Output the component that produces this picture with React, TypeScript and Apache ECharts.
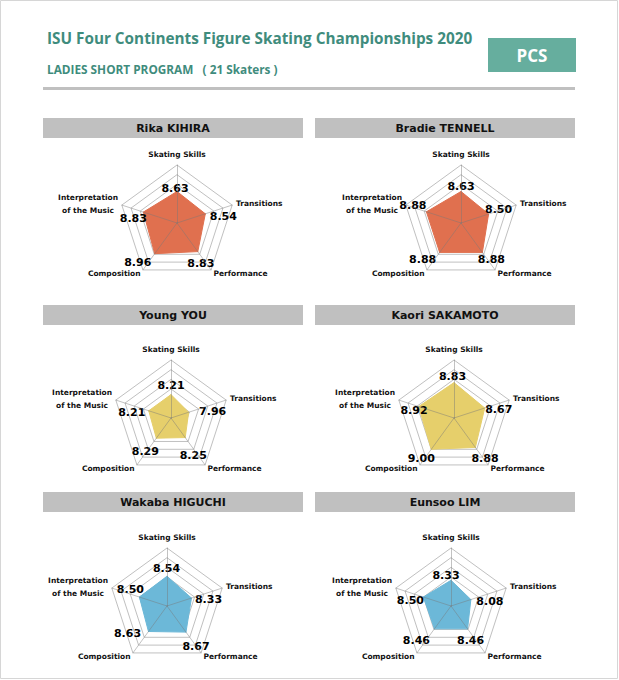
import { useEffect, useRef } from 'react';
import * as echarts from 'echarts';

// ---------- data ----------
const TITLE = 'ISU Four Continents Figure Skating Championships 2020';
const SUBTITLE = 'LADIES SHORT PROGRAM   ( 21 Skaters )';
const BADGE = 'PCS';
const COMPONENTS = ['Skating Skills', 'Transitions', 'Performance', 'Composition', 'Interpretation\nof the Music'];
const SKATERS = ['Rika KIHIRA', 'Bradie TENNELL', 'Young YOU', 'Kaori SAKAMOTO', 'Wakaba HIGUCHI', 'Eunsoo LIM'];
const RIKA_KIHIRA = [8.63, 8.54, 8.83, 8.96, 8.83];
const BRADIE_TENNELL = [8.63, 8.5, 8.88, 8.88, 8.88];
const YOUNG_YOU = [8.21, 7.96, 8.25, 8.29, 8.21];
const KAORI_SAKAMOTO = [8.83, 8.67, 8.88, 9.0, 8.92];
const WAKABA_HIGUCHI = [8.54, 8.33, 8.67, 8.63, 8.5];
const EUNSOO_LIM = [8.33, 8.08, 8.46, 8.46, 8.5];
const SCORES = [RIKA_KIHIRA, BRADIE_TENNELL, YOUNG_YOU, KAORI_SAKAMOTO, WAKABA_HIGUCHI, EUNSOO_LIM];
const AXIS_MIN = 7;
const AXIS_MAX = 10;
const AXIS_SPLITS = 6;

// ---------- layout / style ----------
const COLORS = ['#e0704f', '#e0704f', '#e6cf6b', '#e6cf6b', '#6cb8d8', '#6cb8d8'];
const PANELS = [
  { cx: 177, cy: 223, bx: 43, by: 118 },
  { cx: 461, cy: 223, bx: 315, by: 118 },
  { cx: 171, cy: 418, bx: 43, by: 305 },
  { cx: 454, cy: 418, bx: 315, by: 305 },
  { cx: 167, cy: 606, bx: 43, by: 492 },
  { cx: 451, cy: 606, bx: 315, by: 492 },
];
const RADIUS = 58;
// label offsets from each vertex (SS, TR, PE, CO, IN)
const LABEL_OFFSETS = [
  [[-2, -2.5], [18, 3], [3, 11.5], [-17, 9], [-10, 6]],
  [[0, -4.5], [10, -4.5], [9, 7], [-17, 7], [-13.5, -6]],
  [[0, -9], [24, -1], [8, 18], [-11, 13], [-17, 2]],
  [[-1.5, -6.6], [14, 1], [9.6, 10.6], [-10, 9.5], [-4.7, 4]],
  [[-0.5, -8], [17, 1], [10, 14.4], [-21, 2.5], [-9, -8]],
  [[-5, -5], [19, 2], [3, 12], [-18, 12], [-13, 3.5]],
];
const VERTEX_ANGLES = [90, 18, -54, -126, 162];
// ECharts lays indicators counter-clockwise from the top
const ORDER = [0, 4, 3, 2, 1];
const TEAL = '#3f8c7d';
const FONT = 'DejaVu Sans';

function buildOption() {
  const indicator = ORDER.map((k) => ({ name: COMPONENTS[k], min: AXIS_MIN, max: AXIS_MAX }));
  const radar: any[] = [];
  const series: any[] = [];
  PANELS.forEach((p, i) => {
    radar.push({
      center: [p.cx, p.cy],
      radius: RADIUS,
      startAngle: 90,
      splitNumber: AXIS_SPLITS,
      shape: 'polygon',
      indicator,
      z: 1,
      nameGap: 4,
      axisName: {
        color: '#111',
        fontFamily: FONT,
        fontWeight: 'bold',
        fontSize: 7.5,
        lineHeight: 13,
        formatter: (name: string) => name.split('\n').map((s) => `{a|${s}}`).join('\n'),
        rich: {
          a: { align: 'center', fontFamily: FONT, fontWeight: 'bold', fontSize: 7.5, lineHeight: 13, color: '#111' },
        },
      },
      axisLine: { show: false },
      splitLine: { show: true, lineStyle: { color: '#c0c0c0', width: 1 } },
      splitArea: { show: false },
      axisTick: { show: false },
      axisLabel: { show: false },
    });
    radar.push({
      center: [p.cx, p.cy],
      radius: RADIUS,
      startAngle: 90,
      splitNumber: AXIS_SPLITS,
      shape: 'polygon',
      indicator,
      z: 3,
      axisName: { show: false },
      axisLine: { show: true, lineStyle: { color: 'rgba(120,120,120,0.45)', width: 1 } },
      splitLine: { show: false },
      splitArea: { show: false },
      axisTick: { show: false },
      axisLabel: { show: false },
    });
    series.push({
      type: 'radar',
      radarIndex: i * 2,
      z: 2,
      symbol: 'circle',
      symbolSize: 1,
      itemStyle: { color: COLORS[i] },
      lineStyle: { color: COLORS[i], width: 1 },
      areaStyle: { color: COLORS[i], opacity: 1 },
      label: {
        show: true,
        position: 'inside',
        color: '#000',
        fontFamily: FONT,
        fontWeight: 'bold',
        fontSize: 11,
        formatter: (prm: any) => Number(prm.value).toFixed(2),
      },
      labelLayout: (prm: any) => {
        const r = prm.rect;
        const x = r.x + r.width / 2;
        const y = r.y + r.height / 2;
        const ang = (Math.atan2(p.cy - y, x - p.cx) * 180) / Math.PI;
        let best = 0;
        let bd = 1e9;
        VERTEX_ANGLES.forEach((a, k) => {
          let d = Math.abs(a - ang) % 360;
          if (d > 180) d = 360 - d;
          if (d < bd) { bd = d; best = k; }
        });
        const [dx, dy] = LABEL_OFFSETS[i][best];
        return { dx, dy };
      },
      data: [{ name: SKATERS[i], value: ORDER.map((k) => SCORES[i][k]) }],
    });
  });

  const graphic: any[] = [
    { type: 'rect', shape: { x: 0.5, y: 0.5, width: 617, height: 678 }, style: { fill: 'none', stroke: '#d6d6d6', lineWidth: 1 } },
    { type: 'text', x: 47, y: 38, style: { text: TITLE, fill: TEAL, font: 'bold 15.3px "Open Sans"', textVerticalAlign: 'middle' } },
    { type: 'text', x: 47, y: 69, style: { text: SUBTITLE, fill: TEAL, font: 'bold 11.8px "Open Sans"', textVerticalAlign: 'middle' } },
    { type: 'rect', shape: { x: 488, y: 38, width: 88, height: 34 }, style: { fill: '#66ae9e' } },
    { type: 'text', x: 532, y: 55, style: { text: BADGE, fill: '#fff', font: 'bold 17px "Open Sans"', textAlign: 'center', textVerticalAlign: 'middle' } },
    { type: 'rect', shape: { x: 43, y: 87, width: 532, height: 3 }, style: { fill: '#c0c0c0' } },
  ];
  PANELS.forEach((p, i) => {
    graphic.push({ type: 'rect', shape: { x: p.bx, y: p.by, width: 260, height: 20 }, style: { fill: '#c0c0c0' } });
    graphic.push({
      type: 'text', x: p.bx + 130, y: p.by + 10,
      style: { text: SKATERS[i], fill: '#111', font: `bold 11px "${FONT}"`, textAlign: 'center', textVerticalAlign: 'middle' },
    });
  });

  return { animation: false, backgroundColor: '#fff', radar, series, graphic };
}

export default function App() {
  const ref = useRef<HTMLDivElement>(null);
  useEffect(() => {
    const chart = echarts.init(ref.current!, null, { renderer: 'svg' });
    chart.setOption(buildOption() as any);
    return () => chart.dispose();
  }, []);
  return <div ref={ref} style={{ position: 'fixed', left: 0, top: 0, width: 619, height: 680, background: '#fff' }} />;
}
